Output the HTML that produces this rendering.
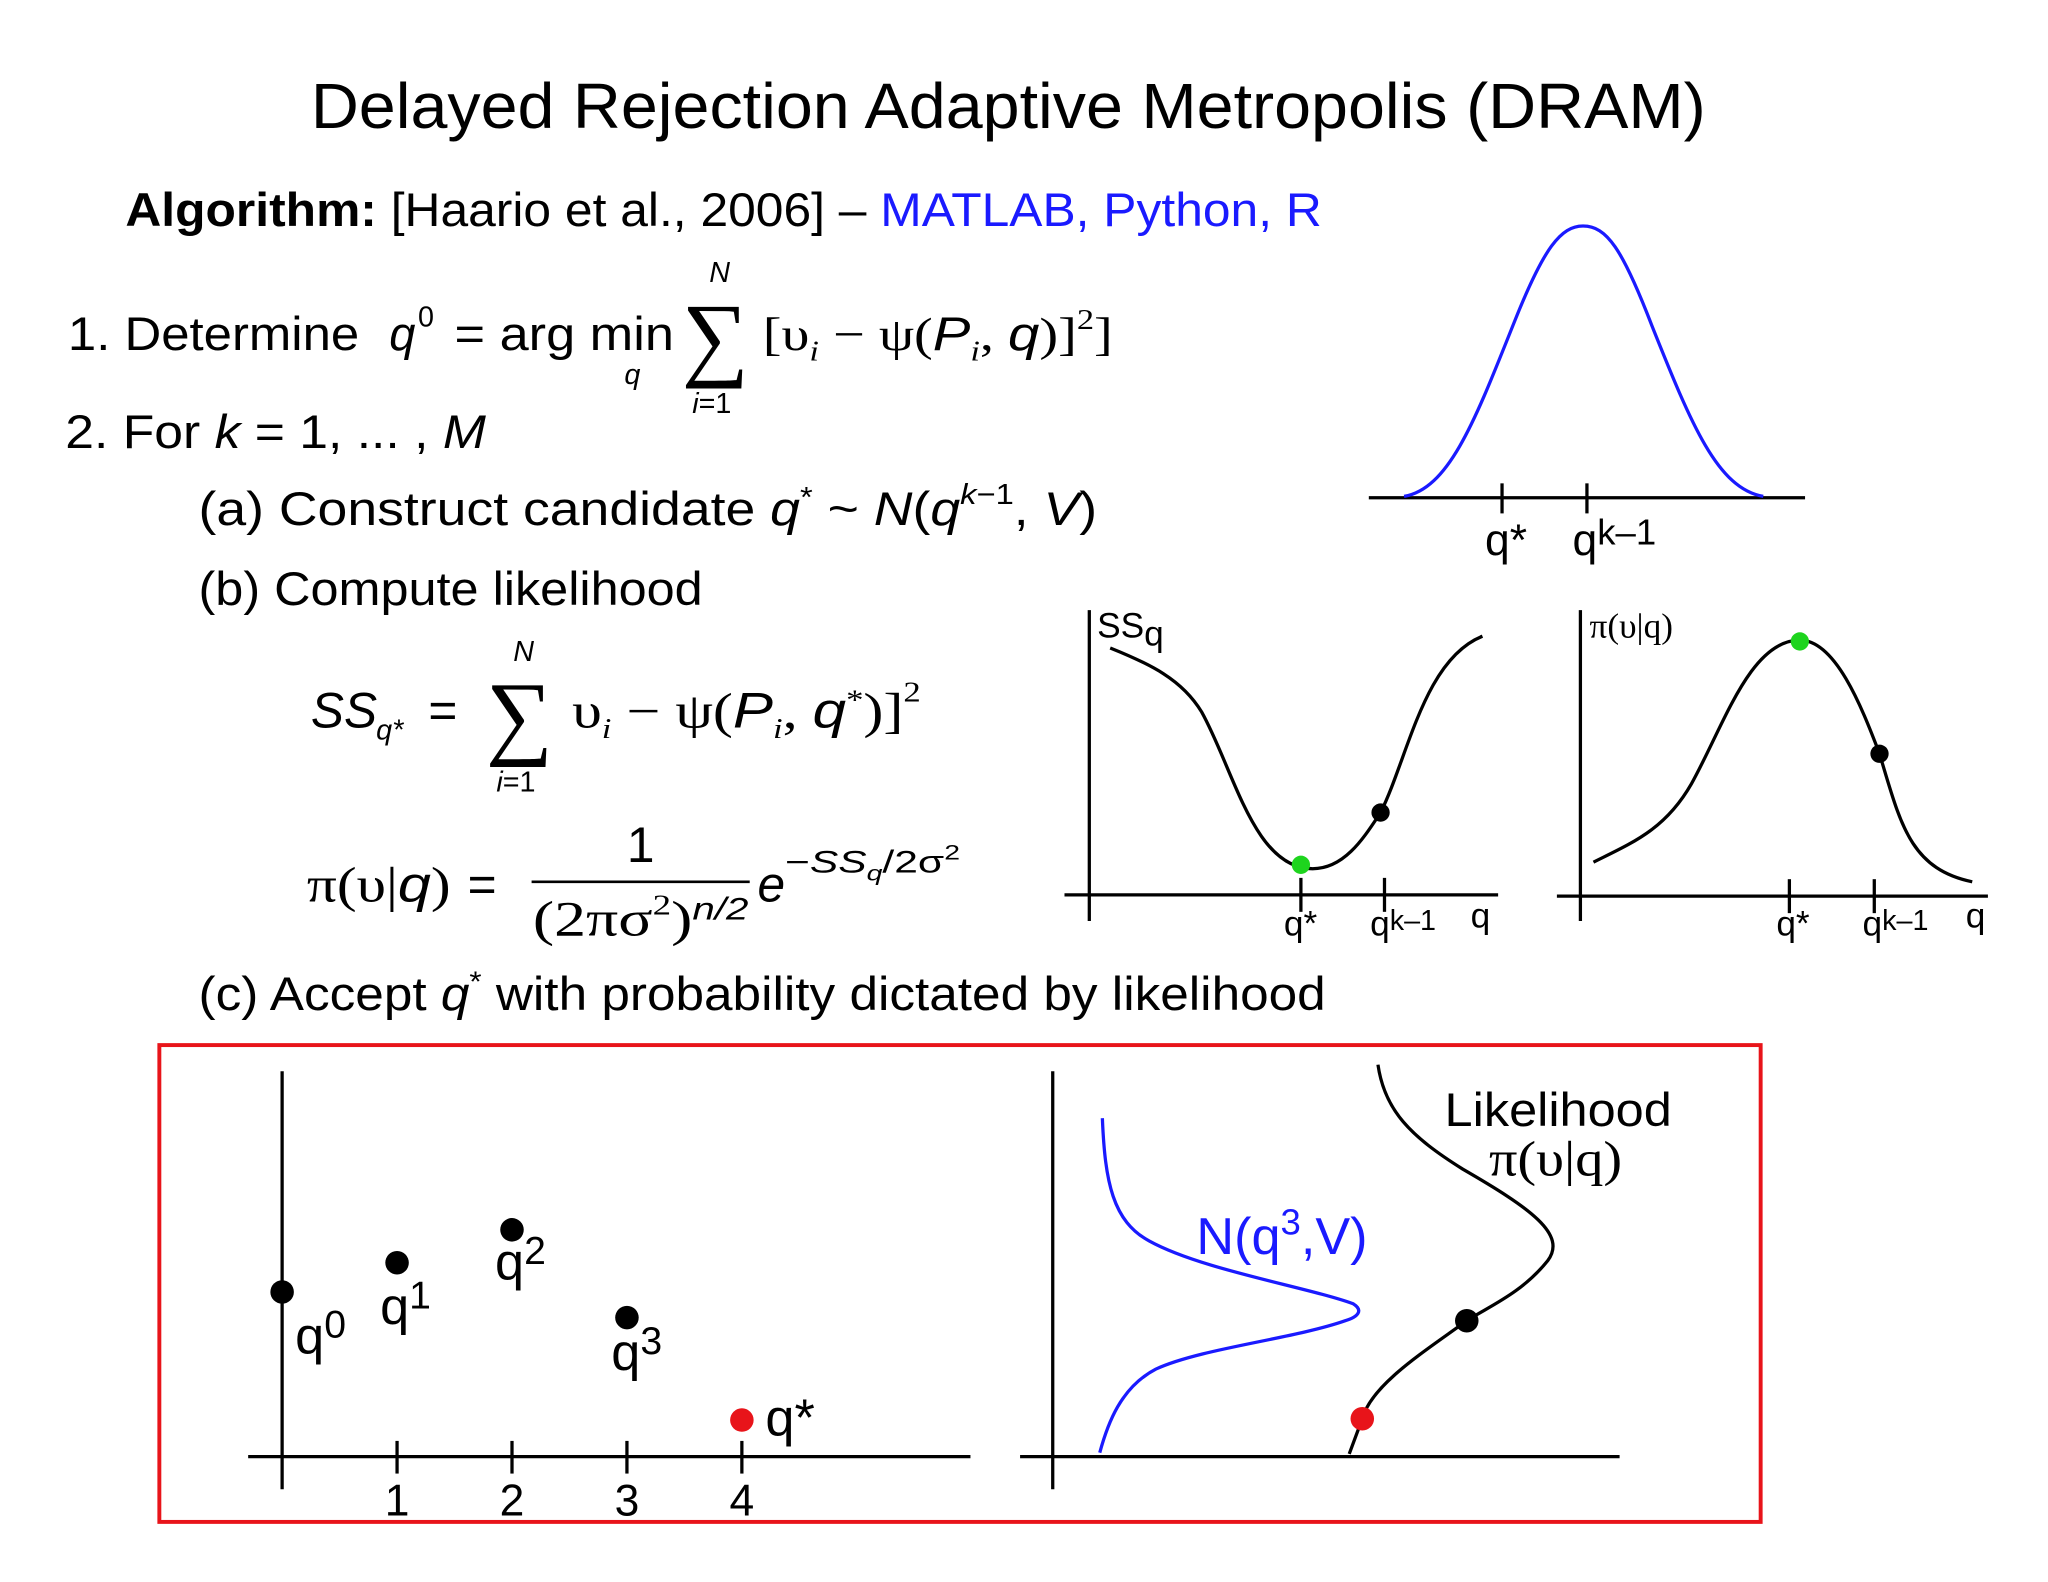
<!DOCTYPE html>
<html><head><meta charset="utf-8"><style>
html,body{margin:0;padding:0;background:#fff;}
svg{display:block;}
text{font-family:"Liberation Sans",sans-serif;fill:#000;}
.m{font-family:"Liberation Serif",serif;}
.i{font-style:italic;}
</style></head><body>
<svg id="s" width="2048" height="1582" viewBox="0 0 1568 1211" preserveAspectRatio="none">
<rect width="1568" height="1211" fill="#fff"/>
<text x="772" y="98" font-size="49" text-anchor="middle" textLength="1068" lengthAdjust="spacingAndGlyphs">Delayed Rejection Adaptive Metropolis (DRAM)</text>
<text x="96" y="173" font-size="36" textLength="916" lengthAdjust="spacingAndGlyphs"><tspan font-weight="bold">Algorithm:</tspan> [Haario et al., 2006] – <tspan fill="#1a1aff">MATLAB, Python, R</tspan></text>

<g font-size="36">
<text x="52" y="268" textLength="223" lengthAdjust="spacingAndGlyphs">1. Determine</text>
<text x="298" y="268" class="i">q</text><text x="320" y="250" font-size="22">0</text>
<text x="348" y="268" textLength="168" lengthAdjust="spacingAndGlyphs">= arg min</text>
<text x="478" y="294" font-size="22" class="i">q</text>
<text x="522" y="282" font-size="72" class="m">∑</text>
<text x="543" y="216" font-size="22" class="i">N</text>
<text x="530" y="316" font-size="22"><tspan class="i">i</tspan>=1</text>
<text x="584" y="268" class="m" textLength="268" lengthAdjust="spacingAndGlyphs">[υ<tspan font-size="22" class="i" dy="8">i</tspan><tspan dy="-8"> − ψ(</tspan><tspan class="i" font-family="Liberation Sans">P</tspan><tspan font-size="22" class="i" dy="8">i</tspan><tspan dy="-8">, </tspan><tspan class="i" font-family="Liberation Sans">q</tspan>)]<tspan font-size="22" dy="-16">2</tspan><tspan dy="16">]</tspan></text>
</g>
<text x="50" y="343" font-size="36" textLength="322" lengthAdjust="spacingAndGlyphs">2. For <tspan class="i">k</tspan> = 1, ... , <tspan class="i">M</tspan></text>
<text x="152" y="402" font-size="36" textLength="688" lengthAdjust="spacingAndGlyphs">(a) Construct candidate <tspan class="i">q</tspan><tspan font-size="22" dy="-14">*</tspan><tspan dy="14"> ~ </tspan><tspan class="i">N</tspan>(<tspan class="i">q</tspan><tspan font-size="22" dy="-16" class="i">k</tspan><tspan font-size="22">−1</tspan><tspan dy="16">, </tspan><tspan class="i">V</tspan>)</text>
<text x="152" y="463" font-size="36" textLength="386" lengthAdjust="spacingAndGlyphs">(b) Compute likelihood</text>

<g font-size="38">
<text x="238" y="557" class="i">SS</text><text x="288" y="566" font-size="22" class="i">q*</text>
<text x="328" y="557">=</text>
<text x="372" y="572" font-size="72" class="m">∑</text>
<text x="393" y="506" font-size="22" class="i">N</text>
<text x="380" y="606" font-size="22"><tspan class="i">i</tspan>=1</text>
<text x="438" y="557" class="m" textLength="267" lengthAdjust="spacingAndGlyphs">υ<tspan font-size="22" class="i" dy="8">i</tspan><tspan dy="-8"> − ψ(</tspan><tspan class="i" font-family="Liberation Sans">P</tspan><tspan font-size="22" class="i" dy="8">i</tspan><tspan dy="-8">, </tspan><tspan class="i" font-family="Liberation Sans">q</tspan><tspan font-size="22" dy="-14">*</tspan><tspan dy="14">)]</tspan><tspan font-size="22" dy="-20">2</tspan></text>
</g>
<g font-size="38">
<text x="235" y="690" class="m" textLength="110" lengthAdjust="spacingAndGlyphs">π(υ|<tspan class="i" font-family="Liberation Sans">q</tspan>)</text>
<text x="358" y="690">=</text>
<text x="480" y="660">1</text>
<line x1="407" y1="675" x2="574" y2="675" stroke="#000" stroke-width="2"/>
<text x="408" y="716" class="m" textLength="165" lengthAdjust="spacingAndGlyphs">(2πσ<tspan font-size="22" dy="-16">2</tspan><tspan dy="16">)</tspan><tspan font-size="24" class="i" dy="-12" font-family="Liberation Sans">n/2</tspan></text>
<text x="580" y="690" class="i">e</text>
<text x="601" y="668" font-size="24" textLength="134" lengthAdjust="spacingAndGlyphs"><tspan>−</tspan><tspan class="i">SS</tspan><tspan font-size="16" class="i" dy="6">q</tspan><tspan dy="-6">/2σ</tspan><tspan font-size="16" dy="-10">2</tspan></text>
</g>
<text x="152" y="773" font-size="36" textLength="863" lengthAdjust="spacingAndGlyphs">(c) Accept <tspan class="i">q</tspan><tspan font-size="22" dy="-14">*</tspan><tspan dy="14"> with probability dictated by likelihood</tspan></text>

<g stroke-width="2.5" fill="none">
<line x1="1048" y1="381" x2="1382" y2="381" stroke="#000"/>
<line x1="1150" y1="370" x2="1150" y2="393" stroke="#000"/>
<line x1="1215" y1="370" x2="1215" y2="393" stroke="#000"/>
<path d="M1075,380 C1110,374 1130,320 1160,245 C1182,190 1195,173 1212,173 C1230,173 1242,190 1265,250 C1295,325 1315,374 1350,380" stroke="#1a1aff"/>
</g>
<text x="1137" y="425" font-size="34">q*</text>
<text x="1204" y="425" font-size="34">q<tspan font-size="28" dy="-8">k–1</tspan></text>

<g stroke="#000" stroke-width="2.5" fill="none">
<line x1="834" y1="467" x2="834" y2="705"/>
<line x1="815" y1="685" x2="1147" y2="685"/>
<line x1="996" y1="672" x2="996" y2="698"/>
<line x1="1060" y1="672" x2="1060" y2="698"/>
<path d="M850,496 C880,508 905,520 920,545 C945,590 960,665 1005,665 C1030,665 1045,640 1057,622 C1078,580 1090,505 1135,487"/>
</g>
<circle cx="996" cy="662" r="7" fill="#1ed41e"/>
<circle cx="1057" cy="622" r="7" fill="#000"/>
<text x="840" y="488" font-size="27">SS<tspan dy="6">q</tspan></text>
<text x="983" y="716" font-size="27">q*</text>
<text x="1049" y="716" font-size="27">q<tspan font-size="22" dy="-4">k–1</tspan></text>
<text x="1126" y="710" font-size="27">q</text>

<g stroke="#000" stroke-width="2.5" fill="none">
<line x1="1210" y1="467" x2="1210" y2="705"/>
<line x1="1192" y1="686" x2="1522" y2="686"/>
<line x1="1370" y1="673" x2="1370" y2="699"/>
<line x1="1435" y1="673" x2="1435" y2="699"/>
<path d="M1220,660 C1250,645 1275,635 1295,600 C1320,555 1340,490 1378,490 C1405,490 1425,540 1439,577 C1455,630 1462,665 1510,675"/>
</g>
<circle cx="1378" cy="491" r="7" fill="#1ed41e"/>
<circle cx="1439" cy="577" r="7" fill="#000"/>
<text x="1217" y="488" font-size="27" class="m">π(υ|q)</text>
<text x="1360" y="716" font-size="27">q*</text>
<text x="1426" y="716" font-size="27">q<tspan font-size="22" dy="-4">k–1</tspan></text>
<text x="1505" y="710" font-size="27">q</text>

<rect x="122" y="800" width="1226" height="365" fill="none" stroke="#e8141a" stroke-width="3"/>

<g id="chain"></g>

<g stroke-width="2.5" fill="none">
<line x1="806" y1="820" x2="806" y2="1140" stroke="#000"/>
<line x1="781" y1="1115" x2="1240" y2="1115" stroke="#000"/>
<path d="M844,856 C846,905 852,935 880,950 C920,972 1000,985 1036,998 C1044,1003 1040,1008 1030,1011 C990,1025 920,1032 885,1048 C858,1062 848,1090 842,1112" stroke="#1a1aff"/>
<path d="M1055,815 C1060,850 1080,870 1120,895 C1172,925 1200,945 1185,965 C1165,990 1140,1000 1123,1011 C1090,1035 1050,1060 1043,1086 L1033,1113" stroke="#000"/>
</g>
<circle cx="1123" cy="1011" r="9" fill="#000"/>
<circle cx="1043" cy="1086" r="9" fill="#e8141a"/>
<text x="1106" y="862" font-size="36" textLength="174" lengthAdjust="spacingAndGlyphs">Likelihood</text>
<text x="1140" y="900" font-size="38" class="m" textLength="102" lengthAdjust="spacingAndGlyphs">π(υ|q)</text>
<text x="916" y="960" font-size="40" style="fill:#1a1aff" textLength="131" lengthAdjust="spacingAndGlyphs">N(q<tspan font-size="28" dy="-15">3</tspan><tspan dy="15">,V)</tspan></text>
</svg>
<script>
const steps = [0, 1, 2, 3, 4];
const chainValues = [4.5, 5.3, 6.2, 3.8, 1.0];
const tickLabels = ["", "1", "2", "3", "4"];
const pointLabels = ["0", "1", "2", "3", "*"];
const xScale = v => 216 + v * 88;
const yScale = v => 1115 - v * 28;
const NS = "http://www.w3.org/2000/svg";
const g = document.getElementById("chain");
function mk(tag, attrs){const e=document.createElementNS(NS,tag);for(const k in attrs)e.setAttribute(k,attrs[k]);g.appendChild(e);return e;}
let e;
e = mk("line",{x1:216,y1:820,x2:216,y2:1140,stroke:"#000","stroke-width":2.5});


e = mk("line",{x1:190,y1:1115,x2:743,y2:1115,stroke:"#000","stroke-width":2.5});


steps.forEach((s,i)=>{
  const x = xScale(s), y = yScale(chainValues[i]);
  if (tickLabels[i]) {
    const t = mk("line",{x1:x,y1:1103,x2:x,y2:1128,stroke:"#000","stroke-width":2.5});
    
    
    const tl = mk("text",{x:x,y:1160,"font-size":34,"text-anchor":"middle"});
    tl.textContent = tickLabels[i];
    
    
  }
  const c = mk("circle",{cx:x,cy:y,r:9,fill: i===4 ? "#e8141a" : "#000"});
  
  
  let lx, ly;
  if (i===0){lx=x+10;ly=y+47;} else if (i===4){lx=x+18;ly=y+12;} else if (i===3){lx=x-12;ly=y+40;} else {lx=x-13;ly=y+(i===1?47:38);}
  const l = mk("text",{x:lx,y:ly,"font-size":40});
  
  
  const a = document.createElementNS(NS,"tspan"); a.textContent="q"; l.appendChild(a);
  const b = document.createElementNS(NS,"tspan");
  b.setAttribute("font-size", i===4 ? 40 : 30);
  b.setAttribute("dy", i===4 ? 0 : -12);
  b.textContent = pointLabels[i]; l.appendChild(b);
});
</script>
</body></html>
